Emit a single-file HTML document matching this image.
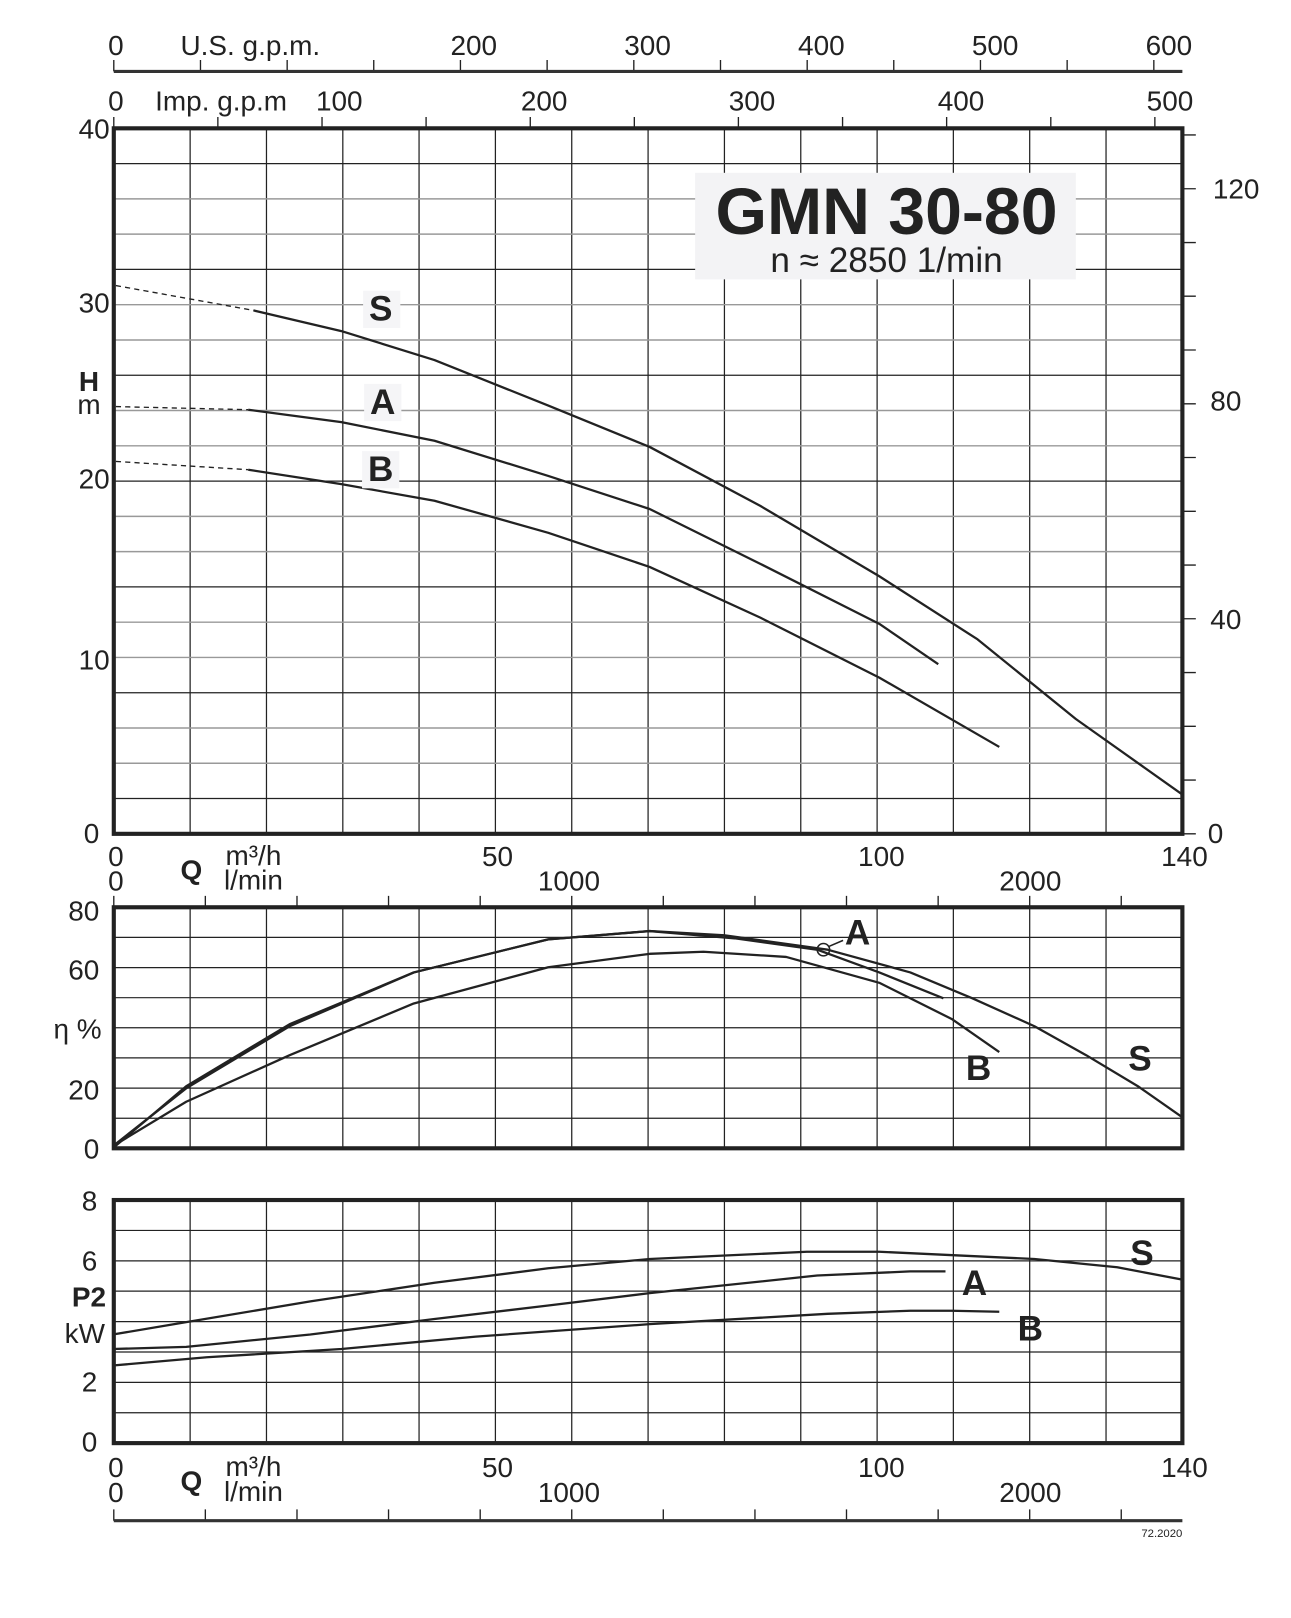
<!DOCTYPE html>
<html><head><meta charset="utf-8"><style>
html,body{margin:0;padding:0;background:#fff}
svg{display:block}
text{font-family:"Liberation Sans",Arial,sans-serif;fill:#222}
.n{font-size:27px}
.b{font-weight:bold;font-size:34px}
</style></head><body>
<svg width="1291" height="1618" viewBox="0 0 1248 1564" xmlns="http://www.w3.org/2000/svg">
<g fill="none" stroke="#222" stroke-width="1.2">
<path d="M183.8 124V806M257.6 124V806M331.4 124V806M405.1 124V806M478.9 124V806M552.7 124V806M626.5 124V806M700.3 124V806M774.1 124V806M847.9 124V806M921.6 124V806M995.4 124V806M1069.2 124V806"/>
<path d="M183.8 877V1110M257.6 877V1110M331.4 877V1110M405.1 877V1110M478.9 877V1110M552.7 877V1110M626.5 877V1110M700.3 877V1110M774.1 877V1110M847.9 877V1110M921.6 877V1110M995.4 877V1110M1069.2 877V1110"/>
<path d="M183.8 1160V1395M257.6 1160V1395M331.4 1160V1395M405.1 1160V1395M478.9 1160V1395M552.7 1160V1395M626.5 1160V1395M700.3 1160V1395M774.1 1160V1395M847.9 1160V1395M921.6 1160V1395M995.4 1160V1395M1069.2 1160V1395"/>
<path stroke="#222" d="M110 158.1H1143M110 260.4H1143M110 362.7H1143M110 465H1143M110 567.3H1143M110 669.6H1143M110 771.9H1143"/>
<path stroke="#999" stroke-width="1.4" d="M110 192.2H1143M110 226.3H1143M110 294.5H1143M110 328.6H1143M110 396.8H1143M110 430.9H1143M110 499.1H1143M110 533.2H1143M110 601.4H1143M110 635.5H1143M110 703.7H1143M110 737.8H1143"/>
<path d="M110 906.1H1143M110 935.3H1143M110 964.4H1143M110 993.5H1143M110 1022.6H1143M110 1051.8H1143M110 1080.9H1143"/>
<path d="M110 1189.4H1143M110 1218.8H1143M110 1248.1H1143M110 1277.5H1143M110 1306.9H1143M110 1336.3H1143M110 1365.6H1143"/>
<path stroke-width="1.3" d="M110 58V69M193.8 58V69M277.6 58V69M361.3 58V69M445.1 58V69M528.9 58V69M612.7 58V69M696.5 58V69M780.3 58V69M864 58V69M947.8 58V69M1031.6 58V69M1115.4 58V69"/>
<path stroke-width="1.3" d="M110 113V124M210.6 113V124M311.3 113V124M411.9 113V124M512.6 113V124M613.2 113V124M713.8 113V124M814.5 113V124M915.1 113V124M1015.8 113V124M1116.4 113V124"/>
<path stroke-width="1.3" d="M110 866V877M198.5 866V877M287.1 866V877M375.6 866V877M464.2 866V877M552.7 866V877M641.2 866V877M729.8 866V877M818.3 866V877M906.9 866V877M995.4 866V877M1083.9 866V877"/>
<path stroke-width="1.3" d="M110 1459V1470M198.5 1459V1470M287.1 1459V1470M375.6 1459V1470M464.2 1459V1470M552.7 1459V1470M641.2 1459V1470M729.8 1459V1470M818.3 1459V1470M906.9 1459V1470M995.4 1459V1470M1083.9 1459V1470"/>
<path stroke-width="1.3" d="M1143 806H1156M1143 754H1156M1143 702.1H1156M1143 650.1H1156M1143 598.1H1156M1143 546.2H1156M1143 494.2H1156M1143 442.2H1156M1143 390.3H1156M1143 338.3H1156M1143 286.3H1156M1143 234.4H1156M1143 182.4H1156M1143 130.4H1156"/>
</g>
<g fill="none" stroke="#222" stroke-width="4">
<rect x="110" y="124" width="1033" height="682"/>
<rect x="110" y="877" width="1033" height="233"/>
<rect x="110" y="1160" width="1033" height="235"/>
</g>
<g stroke="#333" stroke-width="3">
<line x1="110" y1="69" x2="1143" y2="69"/>
<line x1="110" y1="1470" x2="1143" y2="1470"/>
</g>
<rect x="672" y="167" width="368" height="103" fill="#f3f3f5"/>
<text x="857" y="226" text-anchor="middle" style="font-weight:bold;font-size:64px">GMN 30-80</text>
<text x="857" y="263" text-anchor="middle" style="font-size:34px">n ≈ 2850 1/min</text>
<g class="n">
<text x="112" y="53" text-anchor="middle">0</text>
<text x="242" y="53" text-anchor="middle">U.S. g.p.m.</text>
<text x="458" y="53" text-anchor="middle">200</text>
<text x="626" y="53" text-anchor="middle">300</text>
<text x="794" y="53" text-anchor="middle">400</text>
<text x="962" y="53" text-anchor="middle">500</text>
<text x="1130" y="53" text-anchor="middle">600</text>
<text x="112" y="107" text-anchor="middle">0</text>
<text x="150" y="107">Imp. g.p.m</text>
<text x="328" y="107" text-anchor="middle">100</text>
<text x="526" y="107" text-anchor="middle">200</text>
<text x="727" y="107" text-anchor="middle">300</text>
<text x="929" y="107" text-anchor="middle">400</text>
<text x="1131" y="107" text-anchor="middle">500</text>
<text x="106" y="134" text-anchor="end">40</text>
<text x="106" y="302" text-anchor="end">30</text>
<text x="106" y="472" text-anchor="end">20</text>
<text x="106" y="647" text-anchor="end">10</text>
<text x="96" y="815" text-anchor="end">0</text>
<text x="86" y="378" text-anchor="middle" style="font-weight:bold">H</text>
<text x="86" y="400" text-anchor="middle">m</text>
<text x="1195" y="192" text-anchor="middle">120</text>
<text x="1185" y="397" text-anchor="middle">80</text>
<text x="1185" y="608" text-anchor="middle">40</text>
<text x="1175" y="815" text-anchor="middle">0</text>
<text x="112" y="837" text-anchor="middle">0</text>
<text x="112" y="861" text-anchor="middle">0</text>
<text x="185" y="850" text-anchor="middle" style="font-weight:bold">Q</text>
<text x="245" y="836" text-anchor="middle">m³/h</text>
<text x="245" y="860" text-anchor="middle">l/min</text>
<text x="481" y="837" text-anchor="middle">50</text>
<text x="852" y="837" text-anchor="middle">100</text>
<text x="1145" y="837" text-anchor="middle">140</text>
<text x="550" y="861" text-anchor="middle">1000</text>
<text x="996" y="861" text-anchor="middle">2000</text>
<text x="96" y="890" text-anchor="end">80</text>
<text x="96" y="947" text-anchor="end">60</text>
<text x="75" y="1004" text-anchor="middle">η %</text>
<text x="96" y="1063" text-anchor="end">20</text>
<text x="96" y="1120" text-anchor="end">0</text>
<text x="94" y="1170" text-anchor="end">8</text>
<text x="94" y="1228" text-anchor="end">6</text>
<text x="86" y="1263" text-anchor="middle" style="font-weight:bold">P2</text>
<text x="82" y="1298" text-anchor="middle">kW</text>
<text x="94" y="1345" text-anchor="end">2</text>
<text x="94" y="1403" text-anchor="end">0</text>
<text x="112" y="1428" text-anchor="middle">0</text>
<text x="112" y="1452" text-anchor="middle">0</text>
<text x="185" y="1441" text-anchor="middle" style="font-weight:bold">Q</text>
<text x="245" y="1427" text-anchor="middle">m³/h</text>
<text x="245" y="1451" text-anchor="middle">l/min</text>
<text x="481" y="1428" text-anchor="middle">50</text>
<text x="852" y="1428" text-anchor="middle">100</text>
<text x="1145" y="1428" text-anchor="middle">140</text>
<text x="550" y="1452" text-anchor="middle">1000</text>
<text x="996" y="1452" text-anchor="middle">2000</text>
</g>
<text x="1143" y="1486" text-anchor="end" style="font-size:11px">72.2020</text>
<g fill="none" stroke="#222" stroke-width="2.2" stroke-linejoin="round">
<polyline stroke-width="1.3" stroke-dasharray="5,4" points="112,276 245,300"/>
<polyline stroke-width="1.3" stroke-dasharray="5,4" points="112,393 240,396"/>
<polyline stroke-width="1.3" stroke-dasharray="5,4" points="112,446 240,454"/>
<polyline points="245,300 330,320 420,348 530,392 628,432 735,489 850,557 945,618 1040,695 1143,768"/>
<polyline points="240,396 330,408 420,426 530,460 628,492 735,545 850,603 907,642"/>
<polyline points="240,454 330,468 420,484 530,515 628,548 735,597 850,655 966,722"/>
<polyline points="109,1110 180,1050 280,990 400,940 530,908 628,900 700,904 800,918 880,940 940,965 1000,992 1050,1020 1100,1050 1143,1080"/>
<polyline points="109,1108 180,1052 280,992 400,940 530,908 628,900 710,907 790,918 850,940 912,965"/>
<polyline points="109,1108 180,1065 280,1020 400,970 530,935 628,922 680,920 760,925 850,950 920,985 966,1017"/>
<polyline points="109,1290 180,1278 300,1258 420,1240 530,1226 628,1217 780,1210 850,1210 1000,1217 1080,1225 1143,1237"/>
<polyline points="109,1304 180,1302 300,1290 420,1275 530,1262 628,1250 790,1233 880,1229 914,1229"/>
<polyline points="109,1320 200,1312 330,1304 460,1292 628,1280 800,1270 880,1267 920,1267 966,1268"/>
<circle cx="796" cy="918" r="6" stroke-width="1.5"/>
<line x1="801" y1="915" x2="815" y2="909" stroke-width="1.5"/>
</g>
<g class="b">
<rect x="351" y="281" width="36" height="36" fill="#f5f5f7"/>
<text x="368" y="310" text-anchor="middle">S</text>
<rect x="352" y="371" width="36" height="36" fill="#f5f5f7"/>
<text x="370" y="400" text-anchor="middle">A</text>
<rect x="350" y="436" width="36" height="36" fill="#f5f5f7"/>
<text x="368" y="465" text-anchor="middle">B</text>
<text x="829" y="913" text-anchor="middle">A</text>
<text x="946" y="1044" text-anchor="middle">B</text>
<text x="1102" y="1035" text-anchor="middle">S</text>
<text x="1104" y="1223" text-anchor="middle">S</text>
<text x="942" y="1252" text-anchor="middle">A</text>
<text x="996" y="1296" text-anchor="middle">B</text>
</g>
</svg>
</body></html>
